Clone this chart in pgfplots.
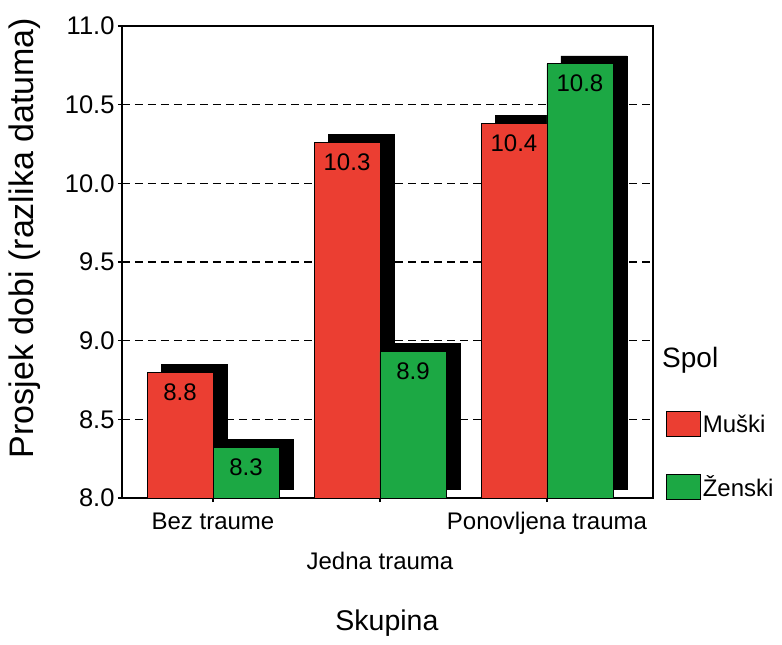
\documentclass[border=0pt]{standalone}
\usepackage{fontspec}
\setmainfont{Liberation Sans}
\usepackage{pgfplots}
\usepackage{pgfplotstable}
\pgfplotsset{compat=1.18}

\definecolor{barred}{RGB}{235,62,50}
\definecolor{bargreen}{RGB}{28,168,68}

% prosjek dobi po skupini i spolu
\pgfplotstableread{
grp muski zenski
0 8.80 8.32
1 10.26 8.93
2 10.38 10.76
}\skupine

\pgfplotsset{
  frame/.style={
    scale only axis, width=531pt, height=472pt,
    xmin=-0.545, xmax=2.635, ymin=8, ymax=11,
    /pgf/number format/fixed,
    /pgf/number format/precision=1,
    /pgf/number format/fixed zerofill,
    /pgf/number format/assume math mode=true,
  },
}

\begin{document}
\begin{tikzpicture}
\path[use as bounding box] (-122pt,-147pt) rectangle (660pt,498pt);

% okvir, mreza, oznake, legenda
\begin{axis}[frame, clip=false,
    axis line style={line width=1.2pt},
    xtick={0,1,2},
    xticklabels={Bez traume,{\raisebox{-57pt}{Jedna trauma}},Ponovljena trauma},
    ytick={8,8.5,...,11},
    xtick pos=bottom, ytick pos=left,
    tick align=center, major tick length=8pt,
    tick style={black, line width=1.2pt},
    ymajorgrids,
    grid style={black, line width=1.6pt, dash pattern=on 8pt off 5pt},
    xticklabel style={yshift=-7pt, font=\fontsize{24}{28}\selectfont},
    yticklabel style={font=\fontsize{25.5}{30}\selectfont},
    ylabel={Prosjek dobi (razlika datuma)},
    ylabel style={at={(axis description cs:-0.183,0.551)}, anchor=center,
      font=\fontsize{34}{40}\selectfont},
    xlabel={Skupina},
    xlabel style={at={(axis description cs:0.499,-0.265)}, anchor=center,
      font=\fontsize{28.5}{33}\selectfont},
    legend image code/.code={\draw[#1] (0pt,-12.5pt) rectangle (34pt,12.5pt);},
    legend style={at={(1.0245,0.184)}, anchor=north west, draw=none, fill=none,
      inner xsep=0pt, inner ysep=0pt, row sep=37pt,
      font=\fontsize{24}{28}\selectfont},
    legend cell align=left,
  ]
  \addlegendimage{fill=barred, draw=black, line width=0.6pt}
  \addlegendentry{Muški}
  \addlegendimage{fill=bargreen, draw=black, line width=0.6pt}
  \addlegendentry{Ženski}
  \node[anchor=base west, inner sep=0pt, xshift=9pt,
    font=\fontsize{28}{32}\selectfont] at (rel axis cs:1,0.2775) {Spol};
\end{axis}

% sjene stupaca
\begin{axis}[frame, hide axis, at={(14pt,8pt)}, ybar=0pt, bar width=0.395]
  \addplot[fill=black, draw=black, bar shift=-0.1975] table[x=grp, y=muski] {\skupine};
  \addplot[fill=black, draw=black, bar shift=0.1975] table[x=grp, y=zenski] {\skupine};
\end{axis}

% stupci
\begin{axis}[frame, hide axis, ybar=0pt, bar width=0.395,
    nodes near coords,
    nodes near coords style={anchor=north, yshift=-11pt, inner sep=0pt,
      font=\fontsize{24}{28}\selectfont},
  ]
  \addplot[fill=barred, draw=black, line width=0.6pt, bar shift=-0.1975]
    table[x=grp, y=muski] {\skupine};
  \addplot[fill=bargreen, draw=black, line width=0.6pt, bar shift=0.1975]
    table[x=grp, y=zenski] {\skupine};
\end{axis}
\end{tikzpicture}
\end{document}
